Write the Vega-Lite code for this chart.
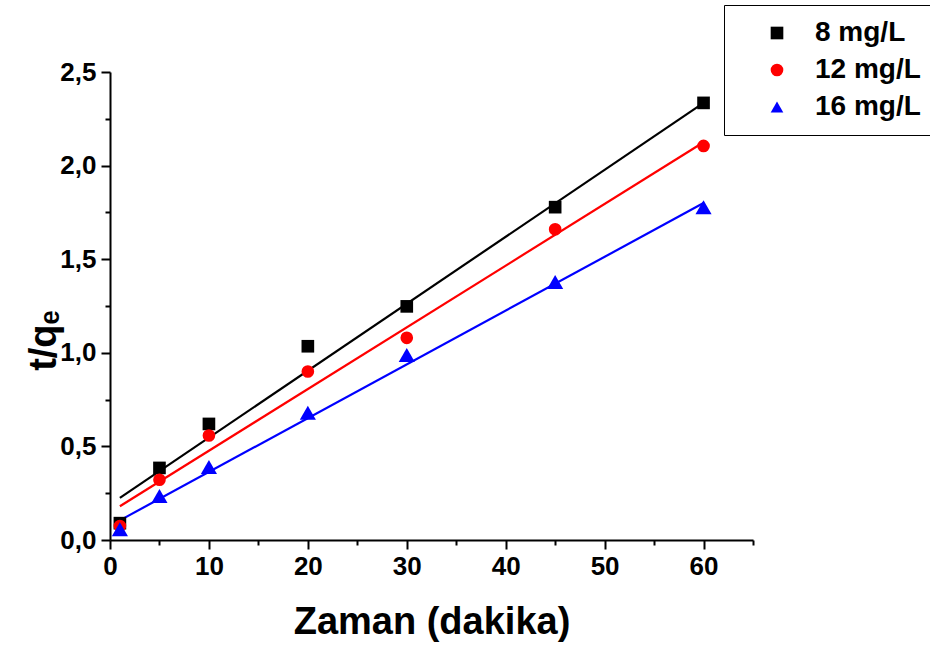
{
  "$schema": "https://vega.github.io/schema/vega-lite/v6.json",
  "width": 643,
  "height": 468,
  "autosize": {"type": "none"},
  "padding": {"left": 110, "top": 72, "right": 177, "bottom": 106},
  "background": "white",
  "datasets": {
    "points": [
      {"series": "8 mg/L", "t": 1, "v": 0.09},
      {"series": "8 mg/L", "t": 5, "v": 0.385},
      {"series": "8 mg/L", "t": 10, "v": 0.62},
      {"series": "8 mg/L", "t": 20, "v": 1.035},
      {"series": "8 mg/L", "t": 30, "v": 1.248},
      {"series": "8 mg/L", "t": 45, "v": 1.778},
      {"series": "8 mg/L", "t": 60, "v": 2.335},
      {"series": "12 mg/L", "t": 1, "v": 0.075},
      {"series": "12 mg/L", "t": 5, "v": 0.322},
      {"series": "12 mg/L", "t": 10, "v": 0.558},
      {"series": "12 mg/L", "t": 20, "v": 0.9},
      {"series": "12 mg/L", "t": 30, "v": 1.08},
      {"series": "12 mg/L", "t": 45, "v": 1.66},
      {"series": "12 mg/L", "t": 60, "v": 2.105},
      {"series": "16 mg/L", "t": 1, "v": 0.057},
      {"series": "16 mg/L", "t": 5, "v": 0.235},
      {"series": "16 mg/L", "t": 10, "v": 0.39},
      {"series": "16 mg/L", "t": 20, "v": 0.68},
      {"series": "16 mg/L", "t": 30, "v": 0.988},
      {"series": "16 mg/L", "t": 45, "v": 1.378},
      {"series": "16 mg/L", "t": 60, "v": 1.777}
    ],
    "fits": [
      {"series": "8 mg/L", "t": 1, "v": 0.225},
      {"series": "8 mg/L", "t": 60, "v": 2.335},
      {"series": "12 mg/L", "t": 1, "v": 0.18},
      {"series": "12 mg/L", "t": 60, "v": 2.125},
      {"series": "16 mg/L", "t": 1, "v": 0.105},
      {"series": "16 mg/L", "t": 60, "v": 1.8}
    ]
  },
  "layer": [
    {
      "data": {"name": "fits"},
      "mark": {"type": "line", "strokeWidth": 2.2},
      "encoding": {
        "x": {"field": "t", "type": "quantitative"},
        "y": {"field": "v", "type": "quantitative"},
        "detail": {"field": "series", "type": "nominal"},
        "color": {"field": "series", "type": "nominal"}
      }
    },
    {
      "data": {"name": "points"},
      "mark": {"type": "point", "filled": true, "opacity": 1, "strokeWidth": 0},
      "encoding": {
        "x": {
          "field": "t", "type": "quantitative",
          "scale": {"domain": [0, 65], "nice": false, "zero": false},
          "axis": {
            "values": [0, 5, 10, 15, 20, 25, 30, 35, 40, 45, 50, 55, 60, 65],
            "labelExpr": "datum.value % 10 === 0 ? datum.label : ''",
            "tickSize": {"condition": {"test": "datum.value % 10 === 0", "value": 9}, "value": 5},
            "labelPadding": 4,
            "labelFontSize": 26,
            "labelFontWeight": "bold",
            "labelFlush": false,
            "labelOverlap": false,
            "title": "Zaman (dakika)",
            "titleFontSize": 38,
            "titleFontWeight": "bold",
            "titleBaseline": "alphabetic",
            "titleY": 93
          }
        },
        "y": {
          "field": "v", "type": "quantitative",
          "scale": {"domain": [0, 2.5], "nice": false, "zero": false},
          "axis": {
            "values": [0, 0.25, 0.5, 0.75, 1, 1.25, 1.5, 1.75, 2, 2.25, 2.5],
            "labelExpr": "abs(datum.value * 2 - round(datum.value * 2)) < 0.001 ? replace(format(datum.value, '.1f'), '.', ',') : ''",
            "tickSize": {"condition": {"test": "abs(datum.value * 2 - round(datum.value * 2)) < 0.001", "value": 9}, "value": 5},
            "labelPadding": 5,
            "labelFontSize": 26,
            "labelFontWeight": "bold",
            "labelFlush": false,
            "labelOverlap": false,
            "title": "t/qₑ",
            "titleFontSize": 38,
            "titleFontWeight": "bold",
            "titleAngle": -90,
            "titleAlign": "center",
            "titleBaseline": "middle",
            "titleX": -66,
            "titleY": 268
          }
        },
        "color": {
          "field": "series", "type": "nominal",
          "scale": {"domain": ["8 mg/L", "12 mg/L", "16 mg/L"], "range": ["#000000", "#ff0000", "#0000ff"]},
          "legend": {
            "orient": "none",
            "legendX": 614,
            "legendY": -67,
            "title": null,
            "padding": 14,
            "rowPadding": 9,
            "symbolOffset": 25,
            "labelOffset": 24,
            "labelFontSize": 28,
            "labelFontWeight": "bold",
            "labelColor": "black",
            "labelFont": "Liberation Sans",
            "labelLimit": 300,
            "symbolSize": 160,
            "symbolStrokeWidth": 0,
            "symbolOpacity": 1,
            "strokeColor": "black",
            "fillColor": "white"
          }
        },
        "shape": {
          "field": "series", "type": "nominal",
          "scale": {"domain": ["8 mg/L", "12 mg/L", "16 mg/L"], "range": ["square", "circle", "triangle-up"]}
        },
        "size": {
          "condition": {"test": "datum.series === '16 mg/L'", "value": 260},
          "value": 160
        }
      }
    }
  ],
  "config": {
    "font": "Liberation Sans",
    "view": {"stroke": null},
    "axis": {
      "grid": false,
      "domainColor": "black",
      "domainWidth": 2,
      "tickColor": "black",
      "tickWidth": 2,
      "labelColor": "black",
      "titleColor": "black",
      "labelFont": "Liberation Sans",
      "titleFont": "Liberation Sans"
    }
  }
}
